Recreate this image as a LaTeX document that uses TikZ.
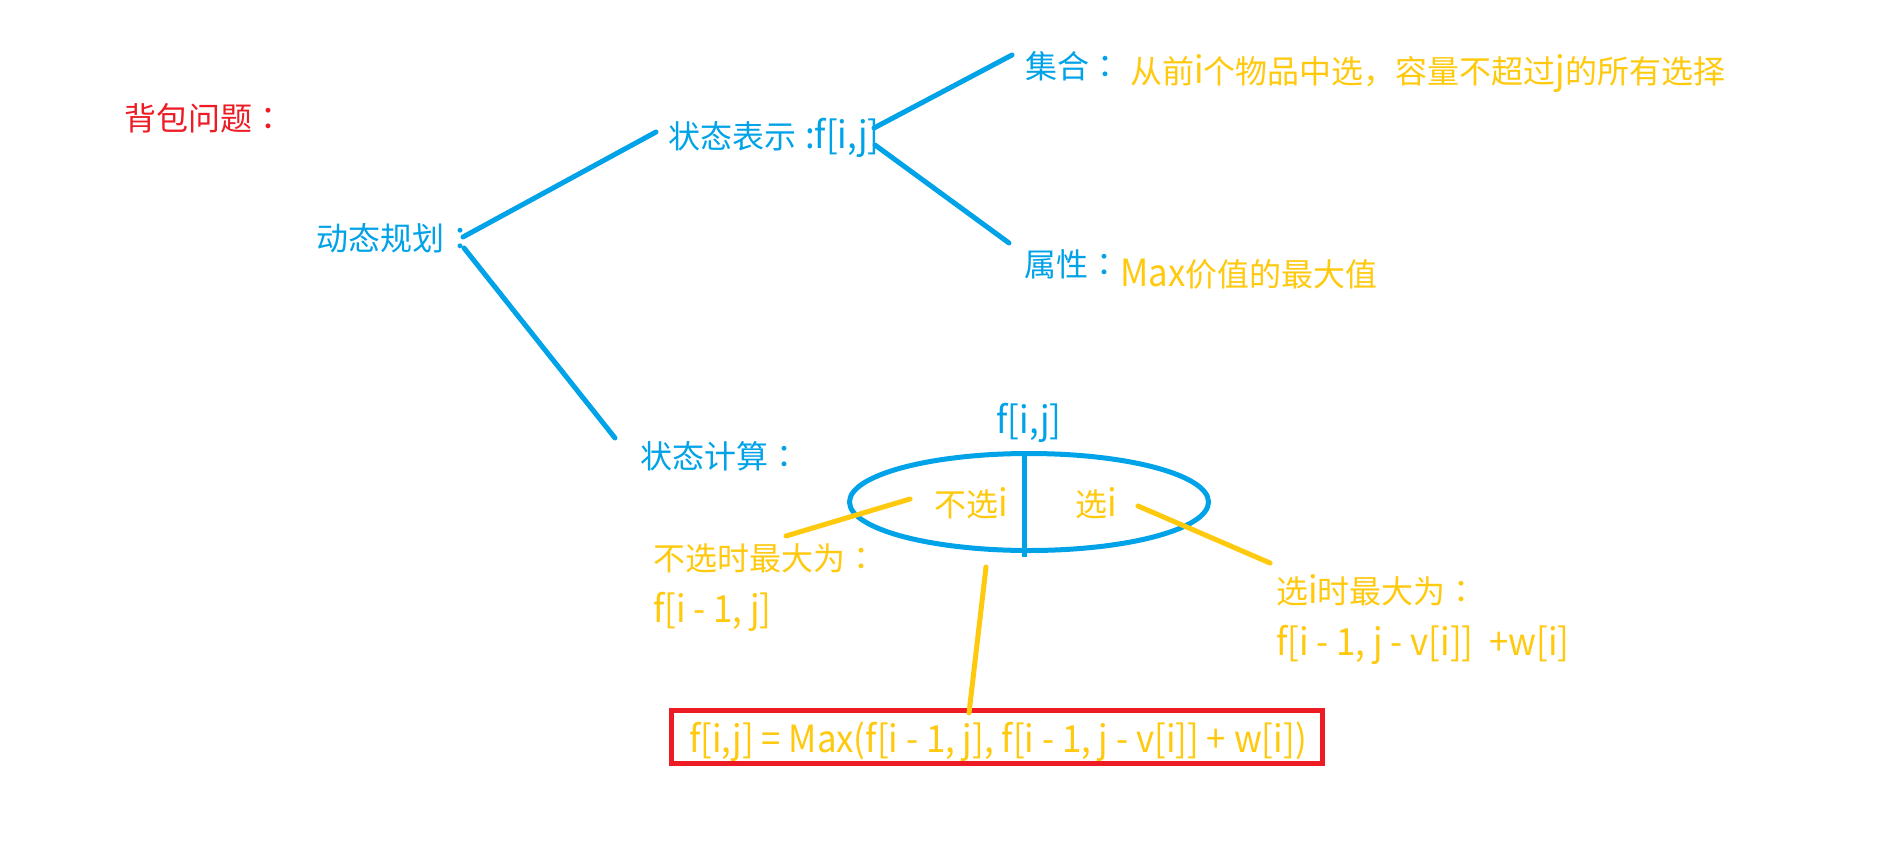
\documentclass[tikz,border=0pt]{standalone}
\usepackage{fontspec}
\setmainfont{Noto Sans CJK SC}
\newfontfamily\lat[Scale=1.17,FakeStretch=0.93]{Noto Sans CJK SC}
\newfontfamily\tcf{Noto Sans CJK TC}
\newcommand\fcolon{{\tcf ：}}
\usetikzlibrary{shapes.geometric}
\definecolor{pblue}{RGB}{0,162,232}
\definecolor{pgold}{RGB}{255,201,14}
\definecolor{pred}{RGB}{237,28,36}
\begin{document}
\begin{tikzpicture}[x=1pt,y=-1pt,
  txt/.style={inner sep=0pt, anchor=base west, font=\fontsize{32}{38}\selectfont},
  bl/.style={txt,text=pblue},
  gd/.style={txt,text=pgold},
  rd/.style={txt,text=pred},
  bline/.style={draw=pblue,line width=5pt,line cap=round},
  yline/.style={draw=pgold,line width=5pt,line cap=round}]
\useasboundingbox[fill=white] (0,0) rectangle (1900,867);

% texts
\node[rd] (title) at (124,130) {背包问题\fcolon};
\node[bl] (dp) at (316,250) {动态规划\fcolon};
\node[bl] (rep) at (668,148) {状态表示\hspace{9pt}{\lat :f[i,j]}};
\node[bl] (set) at (1025,78) {集合\fcolon};
\node[gd] (setd) at (1130,83) {从前{\lat i}个物品中选，容量不超过{\lat j}的所有选择};
\node[bl] (attr) at (1024,276) {属性\fcolon};
\node[gd] (attrd) at (1120,286) {{\lat Max}价值的最大值};
\node[bl] (calc) at (640,468) {状态计算\fcolon};
\node[bl,anchor=base] (fij) at (1029,433) {\lat f[i,j]};
\node[gd] (nsel) at (934,516) {不选{\lat i}};
\node[gd] (sel) at (1075,516) {选{\lat i}};
\node[gd] (nselm) at (653,570) {不选时最大为\fcolon};
\node[gd] (nselv) at (653,622) {\lat f[i - 1, j]};
\node[gd] (selm) at (1276,603) {选{\lat i}时最大为\fcolon};
\node[gd] (selv) at (1276,655) {\lat f[i - 1, j - v[i]]~ +w[i]};
\node[gd,anchor=base] (fm) at (998,752) {\lat f[i,j] = Max(f[i - 1, j], f[i - 1, j - v[i]] + w[i])};

% ellipse and box
\node[draw=pblue,line width=5pt,ellipse,minimum width=359pt,minimum height=97pt,inner sep=0pt] (ell) at (1029,502) {};
\draw[draw=pblue,line width=5pt] ([xshift=-5pt]ell.north) -- ([xshift=-5pt,yshift=-4pt]ell.south);
\node[draw=pred,line width=5pt,minimum width=651pt,minimum height=53pt,inner sep=0pt] (box) at (997,737) {};

% connector ends
\coordinate (a1) at (463,237); \coordinate (a2) at (656,132);
\coordinate (b1) at (464,248); \coordinate (b2) at (615,438);
\coordinate (c1) at (874,128); \coordinate (c2) at (1012,55);
\coordinate (d1) at (875,145); \coordinate (d2) at (1009,243);
\coordinate (e1) at (910,499); \coordinate (e2) at (786,536);
\coordinate (f1) at (1138,506); \coordinate (f2) at (1270,563);
\coordinate (g1) at (986,567); \coordinate (g2) at (969,713);

\draw[bline] (a1) -- (a2);
\draw[bline] (b1) -- (b2);
\draw[bline] (c1) -- (c2);
\draw[bline] (d1) -- (d2);
\draw[yline] (e1) -- (e2);
\draw[yline] (f1) -- (f2);
\draw[yline] (g1) -- (g2);
\end{tikzpicture}
\end{document}
